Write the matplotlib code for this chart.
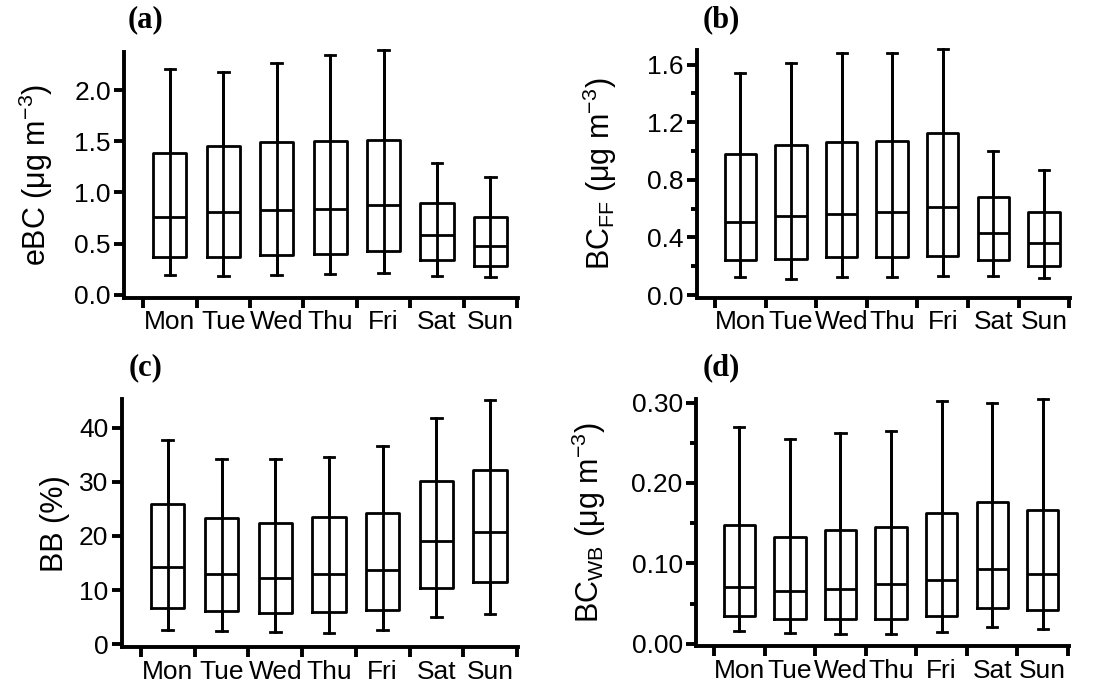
import numpy as np
import matplotlib
matplotlib.use('Agg')
import matplotlib.pyplot as plt
from matplotlib.ticker import MultipleLocator, FormatStrFormatter

plt.rcParams['font.family'] = ['Liberation Sans', 'DejaVu Sans']
plt.rcParams['mathtext.fontset'] = 'custom'
plt.rcParams['mathtext.rm'] = 'Liberation Sans'
plt.rcParams['mathtext.it'] = 'Liberation Sans:italic'
plt.rcParams['mathtext.bf'] = 'Liberation Sans:bold'

days = ['Mon', 'Tue', 'Wed', 'Thu', 'Fri', 'Sat', 'Sun']

# whisker low, 25th, median, 75th, whisker high
ebc_lo = [0.19, 0.18, 0.19, 0.20, 0.21, 0.18, 0.17]
ebc_q1 = [0.37, 0.37, 0.39, 0.40, 0.43, 0.34, 0.28]
ebc_med = [0.76, 0.81, 0.83, 0.84, 0.88, 0.58, 0.48]
ebc_q3 = [1.39, 1.45, 1.49, 1.50, 1.51, 0.90, 0.76]
ebc_hi = [2.21, 2.18, 2.27, 2.34, 2.39, 1.29, 1.15]

ff_lo = [0.125, 0.113, 0.125, 0.125, 0.129, 0.129, 0.12]
ff_q1 = [0.245, 0.25, 0.261, 0.264, 0.273, 0.243, 0.203]
ff_med = [0.509, 0.546, 0.56, 0.578, 0.608, 0.432, 0.361]
ff_q3 = [0.98, 1.045, 1.061, 1.068, 1.124, 0.682, 0.58]
ff_hi = [1.545, 1.614, 1.681, 1.681, 1.711, 0.997, 0.869]

bb_lo = [2.6, 2.45, 2.2, 2.1, 2.6, 5.0, 5.5]
bb_q1 = [6.6, 6.1, 5.7, 5.9, 6.4, 10.4, 11.5]
bb_med = [14.3, 13.0, 12.3, 12.9, 13.7, 19.1, 20.8]
bb_q3 = [25.9, 23.4, 22.4, 23.5, 24.3, 30.1, 32.1]
bb_hi = [37.7, 34.3, 34.2, 34.5, 36.6, 41.8, 45.1]

wb_lo = [0.016, 0.0132, 0.0123, 0.0123, 0.0148, 0.0205, 0.0185]
wb_q1 = [0.0345, 0.0308, 0.0308, 0.0312, 0.0345, 0.0444, 0.0423]
wb_med = [0.0707, 0.0658, 0.0678, 0.074, 0.080, 0.0937, 0.0863]
wb_q3 = [0.1484, 0.1328, 0.1414, 0.1455, 0.1623, 0.1759, 0.166]
wb_hi = [0.2696, 0.2544, 0.2618, 0.265, 0.302, 0.2988, 0.304]

fig = plt.figure(figsize=(11.01, 6.88), dpi=100)

panels = [
    # rect, data, ylabel, ylim, major, minor, fmt, tag, tagpos, labelx
    ([0.1126, 0.567, 0.358, 0.357], (ebc_lo, ebc_q1, ebc_med, ebc_q3, ebc_hi),
     r'eBC (μg m$^{-3}$)', (-0.03, 2.37), 0.5, None, '%.1f', '(a)', (0.1326, 0.972), -0.175),
    ([0.633, 0.567, 0.339, 0.361], (ff_lo, ff_q1, ff_med, ff_q3, ff_hi),
     r'BC$_{\mathrm{FF}}$ (μg m$^{-3}$)', (-0.02, 1.705), 0.4, 0.2, '%.1f', '(b)', (0.655, 0.972), -0.21),
    ([0.1105, 0.059, 0.360, 0.361], (bb_lo, bb_q1, bb_med, bb_q3, bb_hi),
     'BB (%)', (-0.6, 45.3), 10, None, '%d', '(c)', (0.132, 0.466), -0.13),
    ([0.632, 0.0606, 0.339, 0.359], (wb_lo, wb_q1, wb_med, wb_q3, wb_hi),
     r'BC$_{\mathrm{WB}}$ (μg m$^{-3}$)', (-0.003, 0.304), 0.1, 0.05, '%.2f', '(d)', (0.655, 0.466), -0.235),
]

pos = np.arange(1, len(days) + 1)
lw = 2.0
slw = 2.8

for rect, data, ylab, ylim, major, minor, fmt, tag, tagpos, labx in panels:
    ax = fig.add_axes(rect)
    lo, q1, med, q3, hi = data
    stats = [dict(whislo=lo[i], q1=q1[i], med=med[i], q3=q3[i], whishi=hi[i], fliers=[])
             for i in range(len(days))]
    ax.vlines(pos, lo, hi, color='k', lw=lw, clip_on=False)
    ax.bxp(stats, positions=pos, widths=0.62, capwidths=0.2, showfliers=False,
           manage_ticks=False,
           boxprops=dict(color='k', lw=lw),
           whiskerprops=dict(color='k', lw=lw),
           capprops=dict(color='k', lw=lw),
           medianprops=dict(color='k', lw=lw))
    for l in ax.lines:
        l.set_clip_on(False)

    ax.set_xlim(0.14, 7.52)
    ax.set_ylim(*ylim)
    ax.spines['top'].set_visible(False)
    ax.spines['right'].set_visible(False)
    ax.spines['left'].set_linewidth(slw)
    ax.spines['bottom'].set_linewidth(slw)

    ax.set_xticks(np.arange(0.5, 8.0, 1.0))
    ax.set_xticklabels([])
    ax.set_xticks(pos, minor=True)
    ax.set_xticklabels(days, minor=True, fontsize=19)
    ax.tick_params(axis='x', which='major', direction='out', length=7, width=slw)
    ax.tick_params(axis='x', which='minor', length=0, pad=9)

    ax.yaxis.set_major_locator(MultipleLocator(major))
    ax.yaxis.set_major_formatter(FormatStrFormatter(fmt))
    if minor:
        ax.yaxis.set_minor_locator(MultipleLocator(minor))
    ax.tick_params(axis='y', which='major', direction='out', length=7.5, width=slw,
                   labelsize=19, pad=2)
    ax.tick_params(axis='y', which='minor', direction='out', length=4, width=slw)

    ax.set_ylabel(ylab, fontsize=22)
    ax.yaxis.set_label_coords(labx, 0.5)

    fig.text(tagpos[0], tagpos[1], tag, family='Liberation Serif', fontweight='bold',
             fontsize=22, ha='center', va='center')

fig.savefig('out.png', dpi=100)
